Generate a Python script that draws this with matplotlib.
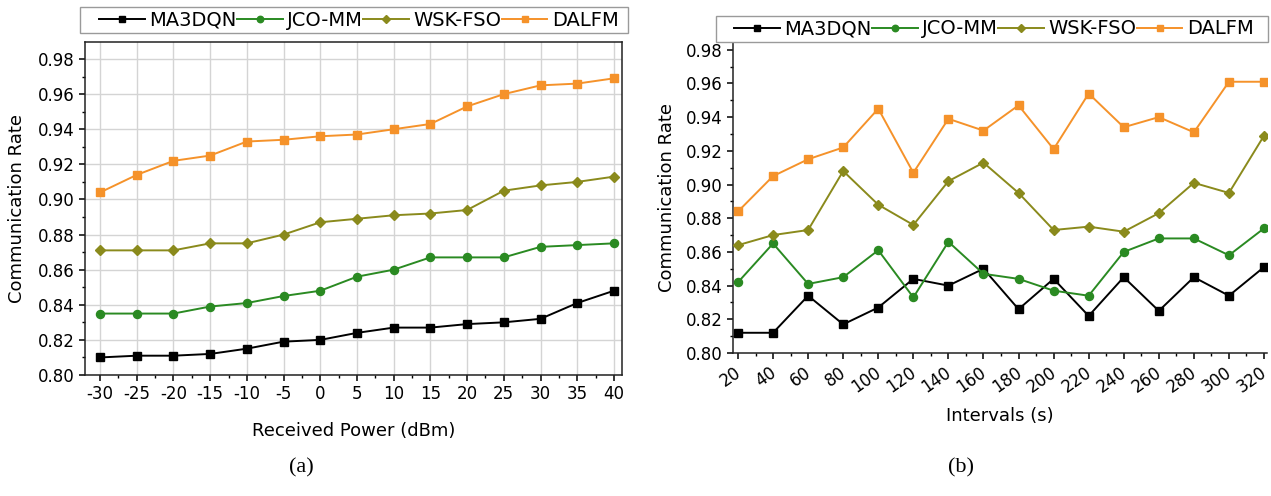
import numpy as np
import matplotlib
matplotlib.use("Agg")
import matplotlib.pyplot as plt
import matplotlib.transforms as mtransforms
from matplotlib.patches import Rectangle
from matplotlib.ticker import AutoMinorLocator, MultipleLocator, FormatStrFormatter

# ---- data --------------------------------------------------------------
methods = ["MA3DQN", "JCO-MM", "WSK-FSO", "DALFM"]
colors = ["#000000", "#2a8a22", "#8a8a1c", "#f5922a"]
markers = ["s", "o", "D", "s"]

power_dbm = [-30, -25, -20, -15, -10, -5, 0, 5, 10, 15, 20, 25, 30, 35, 40]
rate_a_ma3dqn = [0.810, 0.811, 0.811, 0.812, 0.815, 0.819, 0.820, 0.824,
                 0.827, 0.827, 0.829, 0.830, 0.832, 0.841, 0.848]
rate_a_jcomm = [0.835, 0.835, 0.835, 0.839, 0.841, 0.845, 0.848, 0.856,
                0.860, 0.867, 0.867, 0.867, 0.873, 0.874, 0.875]
rate_a_wskfso = [0.871, 0.871, 0.871, 0.875, 0.875, 0.880, 0.887, 0.889,
                 0.891, 0.892, 0.894, 0.905, 0.908, 0.910, 0.913]
rate_a_dalfm = [0.904, 0.914, 0.922, 0.925, 0.933, 0.934, 0.936, 0.937,
                0.940, 0.943, 0.953, 0.960, 0.965, 0.966, 0.969]

intervals_s = [20, 40, 60, 80, 100, 120, 140, 160, 180, 200, 220, 240,
               260, 280, 300, 320]
rate_b_ma3dqn = [0.812, 0.812, 0.834, 0.817, 0.827, 0.844, 0.840, 0.850,
                 0.826, 0.844, 0.822, 0.845, 0.825, 0.845, 0.834, 0.851]
rate_b_jcomm = [0.842, 0.865, 0.841, 0.845, 0.861, 0.833, 0.866, 0.847,
                0.844, 0.837, 0.834, 0.860, 0.868, 0.868, 0.858, 0.874]
rate_b_wskfso = [0.864, 0.870, 0.873, 0.908, 0.888, 0.876, 0.902, 0.913,
                 0.895, 0.873, 0.875, 0.872, 0.883, 0.901, 0.895, 0.929]
rate_b_dalfm = [0.884, 0.905, 0.915, 0.922, 0.945, 0.907, 0.939, 0.932,
                0.947, 0.921, 0.954, 0.934, 0.940, 0.931, 0.961, 0.961]

series_a = [rate_a_ma3dqn, rate_a_jcomm, rate_a_wskfso, rate_a_dalfm]
series_b = [rate_b_ma3dqn, rate_b_jcomm, rate_b_wskfso, rate_b_dalfm]

W, H = 1271, 496
plt.rcParams["font.family"] = ["DejaVu Sans"]
plt.rcParams["axes.unicode_minus"] = False

fig = plt.figure(figsize=(W / 100, H / 100), dpi=100)


def px_axes(left, top, right, bottom):
    return fig.add_axes([left / W, 1 - bottom / H, (right - left) / W, (bottom - top) / H])


def style_axes(ax):
    for s in ax.spines.values():
        s.set_color("#222222")
        s.set_linewidth(1.1)
    ax.tick_params(which="major", direction="out", length=4.5, width=1.1,
                   labelsize=12, top=False, right=False, pad=3)
    ax.tick_params(which="minor", direction="out", length=2.5, width=1.0,
                   top=False, right=False)
    ax.yaxis.set_major_locator(MultipleLocator(0.02))
    ax.yaxis.set_minor_locator(AutoMinorLocator(2))
    ax.xaxis.set_minor_locator(AutoMinorLocator(2))
    ax.yaxis.set_major_formatter(FormatStrFormatter("%.2f"))


def draw_legend(box, anchor_x, anchor_y):
    l, t, r, b = box
    fig.patches.append(Rectangle((l / W, 1 - b / H), (r - l) / W, (b - t) / H,
                                 transform=fig.transFigure, fill=False,
                                 edgecolor="#9a9a9a", linewidth=1.0))
    fig.legend(handles=handles, labels=methods, loc="center left",
               bbox_to_anchor=(anchor_x / W, 1 - anchor_y / H), ncol=4,
               frameon=False, fontsize=14, handlelength=2.35, handletextpad=0.25,
               columnspacing=0.0, borderpad=0, borderaxespad=0, markerscale=0.8)


# ---- (a) received power -------------------------------------------------
ax1 = px_axes(85, 42, 622, 375)
handles = []
for name, vals, c, m in zip(methods, series_a, colors, markers):
    ms = 5.2 if m == "D" else 5.8
    h, = ax1.plot(power_dbm, vals, color=c, marker=m, markersize=ms, linewidth=1.4,
                  label=name, zorder=3)
    handles.append(h)
ax1.set_xlim(-32.05, 41.1)
ax1.set_ylim(0.80, 0.9897)
ax1.set_xticks(power_dbm)
ax1.grid(True, which="major", color="#d4d4d4", linewidth=1.0, zorder=0)
style_axes(ax1)
ax1.set_xlabel("Received Power (dBm)", fontsize=13)
ax1.xaxis.set_label_coords(0.5, -0.14)
ax1.set_ylabel("Communication Rate", fontsize=13)
ax1.yaxis.set_label_coords(-0.11, 0.5)

# ---- (b) intervals -----------------------------------------------------
ax2 = px_axes(733, 43, 1267, 353)
for name, vals, c, m in zip(methods, series_b, colors, markers):
    ms = 5.2 if m == "D" else 5.8
    ax2.plot(intervals_s, vals, color=c, marker=m, markersize=ms, linewidth=1.4,
             label=name, zorder=3)
ax2.set_xlim(17.15, 321.7)
ax2.set_ylim(0.80, 0.984)
ax2.set_xticks(intervals_s)
style_axes(ax2)
ax2.spines["top"].set_visible(False)
ax2.spines["right"].set_visible(False)
shift = mtransforms.ScaledTranslation(-4 / 100, 0, fig.dpi_scale_trans)
for lab in ax2.get_xticklabels():
    lab.set_rotation(35)
    lab.set_ha("right")
    lab.set_rotation_mode("anchor")
    lab.set_transform(lab.get_transform() + shift)
ax2.set_xlabel("Intervals (s)", fontsize=13)
ax2.xaxis.set_label_coords(0.5, -0.175)
ax2.set_ylabel("Communication Rate", fontsize=13)
ax2.yaxis.set_label_coords(-0.107, 0.5)

# ---- legends and panel tags -------------------------------------------
draw_legend((80, 7, 628, 33), 99, 20)
draw_legend((716, 16, 1268, 42), 734, 29)

fig.text(301 / W, 1 - 468 / H, "(a)", ha="center", va="center",
         family="Liberation Serif", fontsize=16)
fig.text(961 / W, 1 - 468 / H, "(b)", ha="center", va="center",
         family="Liberation Serif", fontsize=16)

fig.savefig("out.png", dpi=100)
